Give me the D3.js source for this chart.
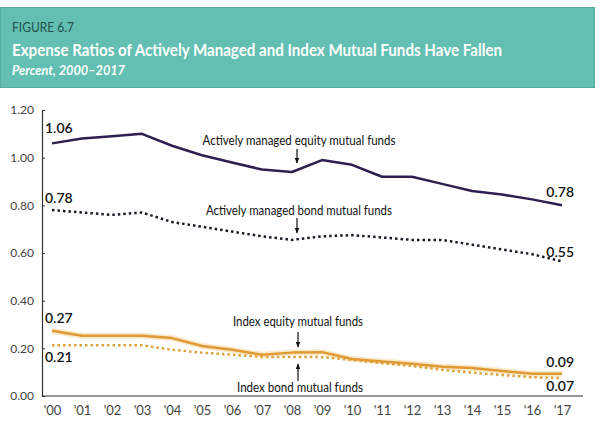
<!DOCTYPE html>
<html>
<head>
<meta charset="utf-8">
<script src="https://cdn.jsdelivr.net/npm/d3@7"></script>
<style>
  html, body { margin: 0; padding: 0; background: #ffffff; }
  svg { display: block; }
  text { font-family: Lato, "Open Sans", "Noto Sans", sans-serif; }
</style>
</head>
<body>
<script>
// ---- Data ----
const years = [2000, 2001, 2002, 2003, 2004, 2005, 2006, 2007, 2008, 2009, 2010, 2011, 2012, 2013, 2014, 2015, 2016, 2017];
const yearLabels = ["'00", "'01", "'02", "'03", "'04", "'05", "'06", "'07", "'08", "'09", "'10", "'11", "'12", "'13", "'14", "'15", "'16", "'17"];
const activeEquity = [1.06, 1.08, 1.09, 1.10, 1.05, 1.01, 0.98, 0.95, 0.94, 0.99, 0.97, 0.92, 0.92, 0.89, 0.86, 0.845, 0.825, 0.80];
const activeBond   = [0.78, 0.77, 0.76, 0.77, 0.73, 0.71, 0.69, 0.67, 0.655, 0.67, 0.675, 0.665, 0.655, 0.655, 0.635, 0.615, 0.595, 0.565];
const indexEquity  = [0.274, 0.253, 0.253, 0.253, 0.243, 0.21, 0.194, 0.173, 0.182, 0.184, 0.155, 0.145, 0.135, 0.123, 0.117, 0.105, 0.093, 0.093];
const indexBond    = [0.213, 0.213, 0.213, 0.213, 0.194, 0.182, 0.173, 0.164, 0.164, 0.163, 0.152, 0.138, 0.126, 0.11, 0.098, 0.088, 0.079, 0.075];
const yTicks = [0, 0.2, 0.4, 0.6, 0.8, 1.0, 1.2];
const figureLabel = "FIGURE 6.7";
const title = "Expense Ratios of Actively Managed and Index Mutual Funds Have Fallen";
const subtitle = "Percent, 2000\u20132017";
const seriesNames = ["Actively managed equity mutual funds", "Actively managed bond mutual funds", "Index equity mutual funds", "Index bond mutual funds"];
const startLabels = ["1.06", "0.78", "0.27", "0.21"];
const endLabels = ["0.78", "0.55", "0.09", "0.07"];

// ---- Layout ----
const W = 600, H = 427;
const svg = d3.select("body").append("svg").attr("width", W).attr("height", H);

// Header band
svg.append("rect").attr("x", 0.5).attr("y", 7.5).attr("width", 594).attr("height", 80)
  .attr("fill", "#63bfb2").attr("stroke", "#56aa9e").attr("stroke-width", 1);
svg.append("text").attr("x", 12).attr("y", 32).text(figureLabel)
  .attr("fill", "#24504c").attr("font-size", 14).attr("textLength", 62).attr("lengthAdjust", "spacingAndGlyphs");
svg.append("text").attr("x", 12).attr("y", 56).text(title)
  .attr("fill", "#ffffff").attr("font-size", 17).attr("font-weight", "bold")
  .attr("textLength", 490).attr("lengthAdjust", "spacingAndGlyphs");
svg.append("text").attr("x", 12).attr("y", 75).text(subtitle)
  .attr("fill", "#ffffff").attr("font-size", 12.5).attr("font-style", "italic").attr("font-weight", "bold")
  .attr("textLength", 113).attr("lengthAdjust", "spacingAndGlyphs");

// Scales
const x = d3.scaleLinear().domain([2000, 2017]).range([52, 562]);
const y = d3.scaleLinear().domain([0, 1.2]).range([396, 110]);

// Y axis
const yAxis = svg.append("g").attr("transform", "translate(42,0)")
  .call(d3.axisRight(y).tickValues(yTicks).tickFormat(d3.format(".2f")).tickSize(3).tickSizeOuter(0));
yAxis.select(".domain").attr("stroke", "#333").attr("stroke-width", 1.2);
yAxis.selectAll(".tick line").attr("stroke", "#333");
yAxis.selectAll(".tick text").attr("x", -8).attr("text-anchor", "end")
  .attr("fill", "#444").attr("font-size", 12).attr("font-family", "Lato, sans-serif");

// X axis
svg.append("line").attr("x1", 42).attr("x2", 583).attr("y1", 396).attr("y2", 396)
  .attr("stroke", "#333").attr("stroke-width", 1.2);
const xAxis = svg.append("g").attr("transform", "translate(0,396)")
  .call(d3.axisBottom(x).tickValues(years).tickFormat((d, i) => yearLabels[i]).tickSize(0));
xAxis.select(".domain").remove();
xAxis.selectAll(".tick text").attr("dy", "0").attr("y", 19)
  .attr("fill", "#444").attr("font-size", 13).attr("font-family", "Lato, sans-serif");

// Lines
const line = d3.line().x((d, i) => x(years[i])).y(d => y(d)).curve(d3.curveLinear);

svg.append("path").datum(indexEquity).attr("d", line).attr("fill", "none")
  .attr("stroke", "#f6d9a6").attr("stroke-width", 6).attr("stroke-opacity", 0.6);
svg.append("path").datum(indexBond).attr("d", line).attr("fill", "none")
  .attr("stroke", "#d9a23a").attr("stroke-width", 2.5).attr("stroke-dasharray", "2.5,3");
svg.append("path").datum(indexEquity).attr("d", line).attr("fill", "none")
  .attr("stroke", "#e09a34").attr("stroke-width", 2.5).attr("stroke-linejoin", "round");
svg.append("path").datum(activeBond).attr("d", line).attr("fill", "none")
  .attr("stroke", "#1a1a24").attr("stroke-width", 2.5).attr("stroke-dasharray", "2.5,3");
svg.append("path").datum(activeEquity).attr("d", line).attr("fill", "none")
  .attr("stroke", "#2d1f4f").attr("stroke-width", 2.5).attr("stroke-linejoin", "round");

// Value labels
const lab = (tx, ty, t, anchor) => svg.append("text").attr("x", tx).attr("y", ty).text(t)
  .attr("fill", "#111").attr("font-size", 14).attr("font-weight", 600).attr("text-anchor", anchor || "start");
lab(45, 133, startLabels[0]);
lab(45, 203, startLabels[1]);
lab(45, 323, startLabels[2]);
lab(45, 362, startLabels[3]);
lab(574, 197, endLabels[0], "end");
lab(574, 257, endLabels[1], "end");
lab(574, 367, endLabels[2], "end");
lab(574, 391, endLabels[3], "end");

// Annotations
const ann = (cx, ty, t, len) => svg.append("text").attr("x", cx).attr("y", ty).text(t)
  .attr("text-anchor", "middle").attr("fill", "#111").attr("font-size", 13)
  .attr("textLength", len).attr("lengthAdjust", "spacingAndGlyphs");
ann(299, 145, seriesNames[0], 193);
ann(299, 215, seriesNames[1], 186);
ann(298, 326, seriesNames[2], 130);
ann(300, 392, seriesNames[3], 126);

// Arrows
const defs = svg.append("defs");
defs.append("marker").attr("id", "ah").attr("viewBox", "0 0 10 10").attr("refX", 9).attr("refY", 5)
  .attr("markerWidth", 5).attr("markerHeight", 5).attr("orient", "auto")
  .append("path").attr("d", "M0,1 L10,5 L0,9 z").attr("fill", "#111");
const arrow = (ax, y1, y2) => svg.append("line").attr("x1", ax).attr("x2", ax).attr("y1", y1).attr("y2", y2)
  .attr("stroke", "#111").attr("stroke-width", 1.2).attr("marker-end", "url(#ah)");
arrow(297, 149, 163);
arrow(297, 218, 233);
arrow(298, 332, 347);
arrow(298, 381, 364);
</script>
</body>
</html>
